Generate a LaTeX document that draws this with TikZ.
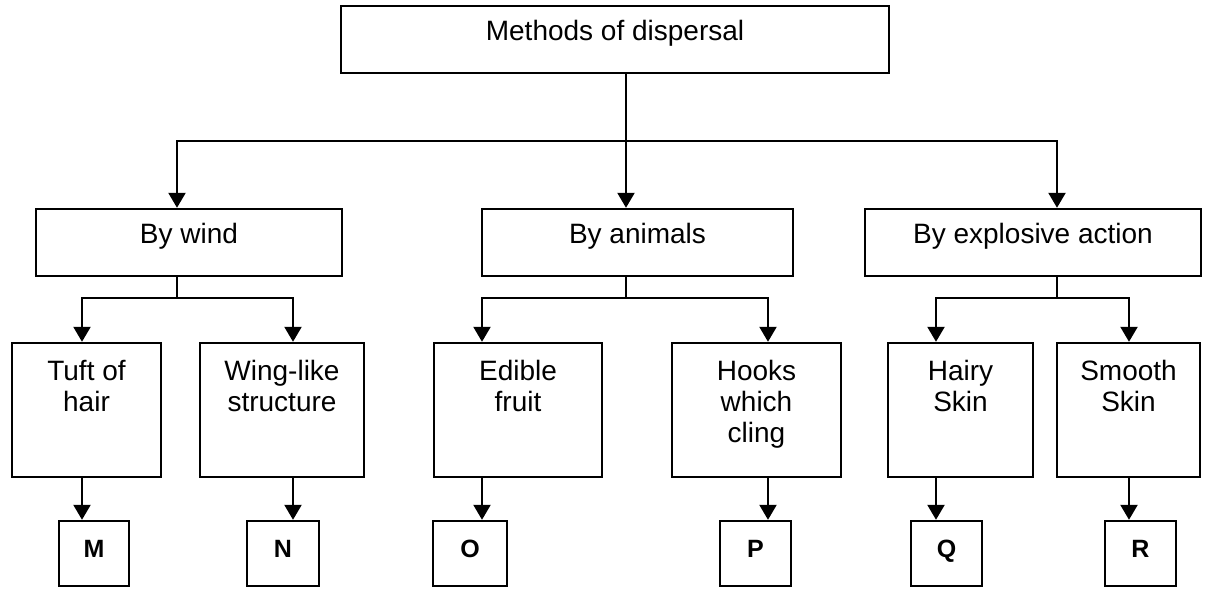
\documentclass[tikz,border=0pt]{standalone}
\usepackage{fontspec}
\setmainfont{Liberation Sans}
\usetikzlibrary{arrows.meta,calc}

\tikzset{
  boxnode/.style 2 args={draw, rectangle, line width=2.4pt, inner sep=0pt,
    minimum width=#1, minimum height=#2},
  lbl/.style={font=\fontsize{28}{31}\selectfont, inner sep=0pt, align=center},
  lettr/.style={font=\fontsize{25}{30}\selectfont\bfseries, inner sep=0pt},
  arr/.style={-{Triangle[length=15pt,width=17pt]}},
  conn/.style={line width=2.2pt},
}

\begin{document}
\begin{tikzpicture}[x=1pt, y=-1pt, conn]
\useasboundingbox (0,0) rectangle (1212,589);

% column positions of the connectors
\coordinate (xw) at (177,0);
\coordinate (xa) at (626,0);
\coordinate (xe) at (1057,0);
\coordinate (c1) at (82,0);
\coordinate (c2) at (293,0);
\coordinate (c3) at (482,0);
\coordinate (c4) at (768,0);
\coordinate (c5) at (936,0);
\coordinate (c6) at (1129,0);

% level 1
\node[boxnode={548pt}{67pt}] (top) at (615,39.5) {};
\node[lbl, anchor=base] (ttop) at ($(top.north)+(0,36)$) {Methods of dispersal};

% level 2
\node[boxnode={306pt}{67pt}] (wind) at (189,242.5) {};
\node[boxnode={311pt}{67pt}] (animals) at (637.5,242.5) {};
\node[boxnode={336pt}{67pt}] (expl) at (1033,242.5) {};
\node[lbl, anchor=base] (twind) at ($(wind.north)+(0,36)$) {By wind};
\node[lbl, anchor=base] (tanimals) at ($(animals.north)+(0,36)$) {By animals};
\node[lbl, anchor=base] (texpl) at ($(expl.north)+(0,36)$) {By explosive action};

% level 3
\node[boxnode={149pt}{134pt}] (tuft) at (86.5,410) {};
\node[boxnode={164pt}{134pt}] (wing) at (282,410) {};
\node[boxnode={168pt}{134pt}] (edible) at (518,410) {};
\node[boxnode={169pt}{134pt}] (hooks) at (756.5,410) {};
\node[boxnode={145pt}{134pt}] (hairy) at (960.5,410) {};
\node[boxnode={143pt}{134pt}] (smooth) at (1128.5,410) {};
\node[lbl, anchor=north] (ttuft) at ($(tuft.north)+(0,17)$) {Tuft of\\hair};
\node[lbl, anchor=north] (twing) at ($(wing.north)+(0,17)$) {Wing-like\\structure};
\node[lbl, anchor=north] (tedible) at ($(edible.north)+(0,17)$) {Edible\\fruit};
\node[lbl, anchor=north] (thooks) at ($(hooks.north)+(0,17)$) {Hooks\\which\\cling};
\node[lbl, anchor=north] (thairy) at ($(hairy.north)+(0,17)$) {Hairy\\Skin};
\node[lbl, anchor=north] (tsmooth) at ($(smooth.north)+(0,17)$) {Smooth\\Skin};

% level 4
\node[boxnode={70pt}{65pt}] (M) at (94,553.5) {};
\node[boxnode={72pt}{65pt}] (N) at (283,553.5) {};
\node[boxnode={74pt}{65pt}] (O) at (470,553.5) {};
\node[boxnode={71pt}{65pt}] (P) at (755.5,553.5) {};
\node[boxnode={71pt}{65pt}] (Q) at (946.5,553.5) {};
\node[boxnode={71pt}{65pt}] (R) at (1140.5,553.5) {};
\node[lettr, anchor=base] (tM) at ($(M.north)+(0,38)$) {M};
\node[lettr, anchor=base] (tN) at ($(N.north)+(0,38)$) {N};
\node[lettr, anchor=base] (tO) at ($(O.north)+(0,38)$) {O};
\node[lettr, anchor=base] (tP) at ($(P.north)+(0,38)$) {P};
\node[lettr, anchor=base] (tQ) at ($(Q.north)+(0,38)$) {Q};
\node[lettr, anchor=base] (tR) at ($(R.north)+(0,38)$) {R};

% level 1 -> level 2
\coordinate (hub) at (626,141);
\draw[arr] (top.south -| xa) -- (animals.north -| xa);
\draw[arr] (hub) -| (wind.north -| xw);
\draw[arr] (hub) -| (expl.north -| xe);

% level 2 -> level 3
\coordinate (hw) at (177,298);
\coordinate (ha) at (626,298);
\coordinate (he) at (1057,298);
\draw (wind.south -| xw) -- (hw);
\draw[arr] (hw) -| (tuft.north -| c1);
\draw[arr] (hw) -| (wing.north -| c2);
\draw (animals.south -| xa) -- (ha);
\draw[arr] (ha) -| (edible.north -| c3);
\draw[arr] (ha) -| (hooks.north -| c4);
\draw (expl.south -| xe) -- (he);
\draw[arr] (he) -| (hairy.north -| c5);
\draw[arr] (he) -| (smooth.north -| c6);

% level 3 -> level 4
\draw[arr] (tuft.south -| c1) -- (M.north -| c1);
\draw[arr] (wing.south -| c2) -- (N.north -| c2);
\draw[arr] (edible.south -| c3) -- (O.north -| c3);
\draw[arr] (hooks.south -| c4) -- (P.north -| c4);
\draw[arr] (hairy.south -| c5) -- (Q.north -| c5);
\draw[arr] (smooth.south -| c6) -- (R.north -| c6);
\end{tikzpicture}
\end{document}
